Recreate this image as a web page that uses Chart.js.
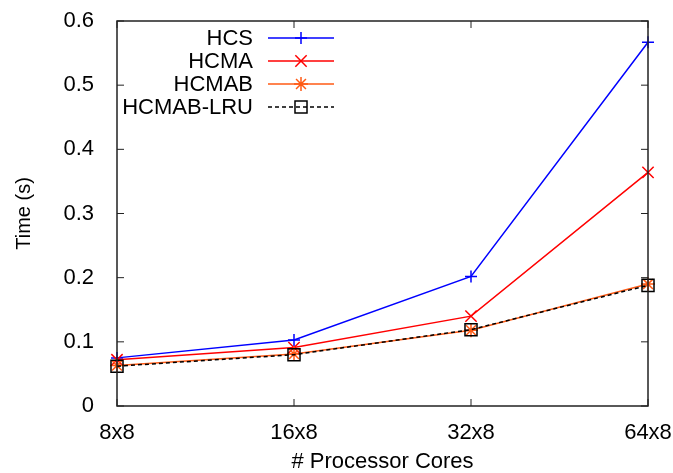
<!DOCTYPE html>
<html>
<head>
<meta charset="utf-8">
<script src="https://cdn.jsdelivr.net/npm/chart.js@4.4.1/dist/chart.umd.min.js"></script>
<style>
  html, body { margin: 0; padding: 0; background: #fff; }
  #wrap { width: 673px; height: 473px; }
</style>
</head>
<body>
<div id="wrap"><canvas id="timeChart" width="673" height="473"></canvas></div>
<script>
const cores = ['8x8', '16x8', '32x8', '64x8'];
const hcs = [0.075, 0.103, 0.202, 0.567];
const hcma = [0.072, 0.091, 0.140, 0.364];
const hcmab = [0.063, 0.081, 0.118, 0.190];
const hcmabLru = [0.062, 0.080, 0.119, 0.188];

const fnt = { family: 'Liberation Sans', size: 22 };

function mkSet(label, data, color, style, radius, dash, order) {
  return {
    label: label,
    data: data,
    borderColor: color,
    backgroundColor: 'rgba(0,0,0,0)',
    pointBorderColor: color,
    pointBackgroundColor: 'rgba(0,0,0,0)',
    pointStyle: style,
    pointRadius: radius,
    pointHoverRadius: radius,
    pointBorderWidth: 1.5,
    borderWidth: 1.5,
    borderDash: dash,
    tension: 0,
    clip: false,
    order: order
  };
}

// gnuplot style box: border, inward ticks, legend with text left of sample
const gnuBox = {
  id: 'gnuBox',
  afterDraw(chart) {
    const ctx = chart.ctx;
    const a = chart.chartArea;
    const xs = chart.scales.x, ys = chart.scales.y;
    ctx.save();
    ctx.strokeStyle = '#222';
    ctx.lineWidth = 1;
    ctx.beginPath();
    ys.ticks.forEach((t, i) => {
      const y = ys.getPixelForTick(i);
      ctx.moveTo(a.left, y); ctx.lineTo(a.left + 7, y);
      ctx.moveTo(a.right, y); ctx.lineTo(a.right - 7, y);
    });
    xs.ticks.forEach((t, i) => {
      const x = xs.getPixelForTick(i);
      ctx.moveTo(x, a.bottom); ctx.lineTo(x, a.bottom - 7);
      ctx.moveTo(x, a.top); ctx.lineTo(x, a.top + 7);
    });
    ctx.stroke();
    ctx.lineWidth = 1.5;
    ctx.strokeRect(a.left, a.top, a.right - a.left, a.bottom - a.top);

    // legend
    ctx.font = '22px "Liberation Sans"';
    ctx.textAlign = 'right';
    ctx.textBaseline = 'middle';
    chart.data.datasets.forEach((ds, i) => {
      const y = 38 + i * 23;
      ctx.fillStyle = '#000';
      ctx.fillText(ds.label, 253, y + 1);
      ctx.strokeStyle = ds.borderColor;
      ctx.lineWidth = ds.borderWidth;
      ctx.setLineDash(ds.borderDash || []);
      ctx.beginPath();
      ctx.moveTo(268, y); ctx.lineTo(334, y);
      ctx.stroke();
      ctx.setLineDash([]);
      ctx.lineWidth = ds.pointBorderWidth;
      ctx.fillStyle = 'rgba(0,0,0,0)';
      Chart.helpers.drawPoint(ctx, {
        pointStyle: ds.pointStyle,
        radius: ds.pointRadius,
        rotation: 0,
        borderWidth: ds.pointBorderWidth
      }, 301, y);
    });
    ctx.restore();
  }
};

new Chart(document.getElementById('timeChart'), {
  type: 'line',
  data: {
    labels: cores,
    datasets: [
      mkSet('HCS', hcs, '#0000ff', 'cross', 6, [], 3),
      mkSet('HCMA', hcma, '#ff0000', 'crossRot', 8, [], 2),
      mkSet('HCMAB', hcmab, '#ff5a14', 'star', 7, [], 1),
      mkSet('HCMAB-LRU', hcmabLru, '#000000', 'rect', 8.5, [4, 3], 0)
    ]
  },
  options: {
    responsive: false,
    animation: false,
    layout: { padding: { top: 21, right: 25, left: 0, bottom: 0 } },
    plugins: {
      legend: { display: false },
      tooltip: { enabled: false }
    },
    scales: {
      x: {
        type: 'category',
        offset: false,
        grid: { display: false },
        border: { display: false },
        ticks: { color: '#000', font: fnt, padding: 6, maxRotation: 0 },
        title: { display: true, text: '# Processor Cores', color: '#000', font: { family: 'Liberation Sans', size: 22, lineHeight: 1 }, padding: { top: 0, bottom: 0 } },
        afterFit(s) { s.height = 67; s.paddingLeft = 0; s.paddingRight = 0; }
      },
      y: {
        min: 0,
        max: 0.6,
        grid: { display: false },
        border: { display: false },
        ticks: { stepSize: 0.1, color: '#000', font: fnt, padding: 15 },
        title: { display: true, text: 'Time (s)', color: '#000', font: { family: 'Liberation Sans', size: 20 }, padding: { top: 12, bottom: 0 } },
        afterFit(s) { s.width = 117; s.paddingTop = 0; s.paddingBottom = 0; }
      }
    }
  },
  plugins: [gnuBox]
});
</script>
</body>
</html>
